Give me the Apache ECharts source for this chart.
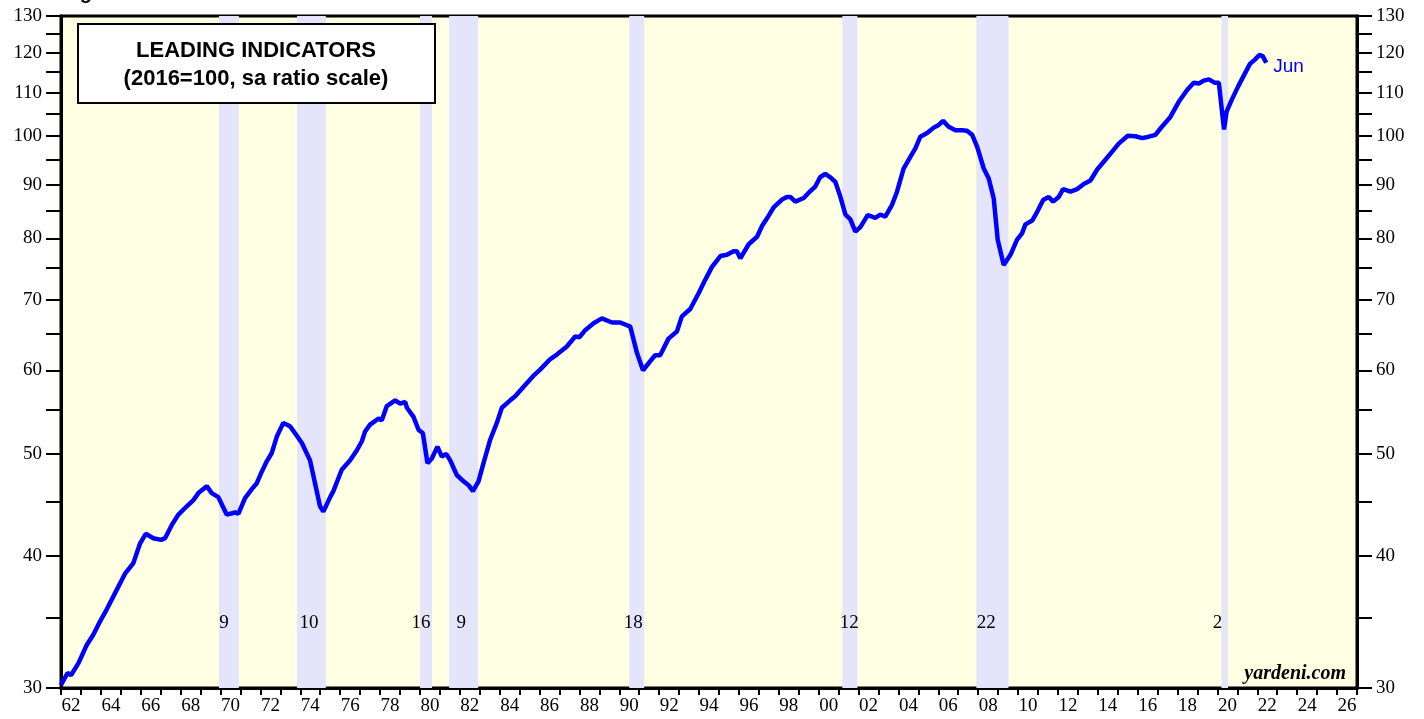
<!DOCTYPE html>
<html>
<head>
<meta charset="utf-8">
<script src="https://cdn.jsdelivr.net/npm/echarts@6/dist/echarts.min.js"></script>
<style>
  html, body { margin: 0; padding: 0; background: #fff; }
  #chart { width: 1424px; height: 719px; }
</style>
</head>
<body>
<div id="chart"></div>
<script>
// LEI readings (year fraction, index 2016=100)
var years = [
  1962.00, 1962.33, 1962.50, 1962.87, 1963.29, 1963.62, 1963.96, 1964.29, 1964.71, 1965.21,
  1965.63, 1965.96, 1966.25, 1966.63, 1967.02, 1967.22, 1967.55, 1967.89, 1968.31, 1968.64,
  1968.89, 1969.31, 1969.56, 1969.89, 1970.31, 1970.73, 1970.90, 1971.23, 1971.57, 1971.82,
  1972.07, 1972.32, 1972.57, 1972.82, 1973.15, 1973.49, 1973.74, 1974.08, 1974.49, 1974.74,
  1974.99, 1975.16, 1975.50, 1975.66, 1976.08, 1976.50, 1976.84, 1977.09, 1977.25, 1977.50,
  1977.92, 1978.09, 1978.34, 1978.76, 1979.01, 1979.26, 1979.35, 1979.68, 1979.93, 1980.15,
  1980.38, 1980.60, 1980.88, 1981.10, 1981.32, 1981.52, 1981.85, 1982.19, 1982.44, 1982.66,
  1982.94, 1983.19, 1983.53, 1983.86, 1984.11, 1984.53, 1984.78, 1985.20, 1985.70, 1986.03,
  1986.54, 1986.87, 1987.37, 1987.79, 1988.01, 1988.29, 1988.71, 1989.13, 1989.63, 1990.05,
  1990.55, 1990.89, 1991.19, 1991.55, 1991.80, 1992.05, 1992.47, 1992.89, 1993.14, 1993.56,
  1993.98, 1994.31, 1994.65, 1995.07, 1995.40, 1995.73, 1995.90, 1996.07, 1996.49, 1996.91,
  1997.16, 1997.41, 1997.74, 1998.16, 1998.41, 1998.58, 1998.83, 1999.25, 1999.58, 1999.83,
  2000.08, 2000.33, 2000.59, 2000.84, 2001.09, 2001.34, 2001.59, 2001.84, 2002.09, 2002.46,
  2002.84, 2003.09, 2003.34, 2003.68, 2003.93, 2004.26, 2004.60, 2004.85, 2005.10, 2005.44,
  2005.77, 2006.02, 2006.24, 2006.52, 2006.86, 2007.19, 2007.44, 2007.70, 2007.95, 2008.28,
  2008.53, 2008.78, 2008.98, 2009.28, 2009.62, 2009.95, 2010.20, 2010.37, 2010.71, 2010.96,
  2011.26, 2011.54, 2011.76, 2012.04, 2012.26, 2012.63, 2012.96, 2013.30, 2013.63, 2013.97,
  2014.38, 2014.72, 2015.05, 2015.50, 2015.89, 2016.23, 2016.55, 2016.89, 2017.14, 2017.64,
  2018.06, 2018.48, 2018.81, 2019.07, 2019.31, 2019.57, 2019.85, 2020.07, 2020.12, 2020.33,
  2020.46, 2020.71, 2021.04, 2021.38, 2021.63, 2021.88, 2022.10, 2022.27, 2022.45
];
var lei = [
  30.2, 31.0, 30.85, 31.66, 32.95, 33.7, 34.7, 35.6, 36.9, 38.5,
  39.4, 41.1, 42.0, 41.6, 41.45, 41.6, 42.8, 43.8, 44.6, 45.2,
  45.9, 46.6, 45.9, 45.5, 43.8, 44.0, 43.9, 45.4, 46.3, 46.9,
  48.1, 49.2, 50.1, 51.9, 53.5, 53.1, 52.3, 51.2, 49.3, 46.9,
  44.6, 44.1, 45.5, 46.1, 48.3, 49.3, 50.4, 51.4, 52.5, 53.3,
  54.0, 53.8, 55.5, 56.2, 55.8, 56.0, 55.3, 54.2, 52.7, 52.3,
  49.0, 49.5, 50.8, 49.7, 50.0, 49.3, 47.75, 47.1, 46.7, 46.1,
  47.1, 49.0, 51.6, 53.5, 55.3, 56.2, 56.7, 57.9, 59.3, 60.1,
  61.5, 62.1, 63.2, 64.6, 64.5, 65.5, 66.5, 67.2, 66.6, 66.6,
  66.0, 62.3, 60.0, 61.2, 62.0, 62.0, 64.3, 65.3, 67.5, 68.6,
  71.0, 73.1, 75.2, 77.0, 77.2, 77.8, 77.8, 76.6, 79.0, 80.3,
  82.2, 83.6, 85.6, 87.1, 87.6, 87.6, 86.7, 87.4, 88.7, 89.6,
  91.5, 92.1, 91.4, 90.5, 87.6, 84.3, 83.4, 81.2, 82.0, 84.2,
  83.7, 84.3, 83.9, 86.1, 88.6, 93.2, 95.6, 97.4, 99.9, 100.7,
  101.9, 102.5, 103.4, 102.1, 101.3, 101.3, 101.2, 100.3, 97.7, 93.2,
  91.2, 87.3, 79.8, 75.5, 77.2, 79.8, 80.9, 82.5, 83.2, 84.8,
  87.0, 87.6, 86.7, 87.6, 89.1, 88.6, 89.1, 90.1, 90.8, 93.0,
  95.0, 96.7, 98.4, 100.1, 100.0, 99.6, 99.9, 100.3, 101.7, 104.3,
  107.8, 110.6, 112.4, 112.2, 112.9, 113.2, 112.4, 112.4, 112.2, 101.5,
  105.5, 108.2, 111.5, 114.7, 117.1, 118.2, 119.4, 119.1, 117.4
];

// recessions (shaded) and their labels
var recStart = [1969.92, 1973.84, 1980.01, 1981.47, 1990.50, 2001.19, 2007.91, 2020.20];
var recEnd   = [1970.92, 1975.28, 1980.61, 1982.92, 1991.25, 2001.94, 2009.52, 2020.53];
var recLabelYears = [1970.18, 1974.44, 1980.06, 1982.07, 1990.70, 2001.54, 2008.41, 2020.00];
var recLabels = ['9', '10', '16', '9', '18', '12', '22', '2'];

// ratio scale ticks
var yTicks = [30, 35, 40, 45, 50, 55, 60, 65, 70, 75, 80, 85, 90, 95, 100, 105, 110, 115, 120, 125, 130];
var yLabels = [30, 40, 50, 60, 70, 80, 90, 100, 110, 120, 130];

var serif = '"Liberation Serif", "Times New Roman", serif';
var sans = '"Liberation Sans", Arial, sans-serif';

var chart = echarts.init(document.getElementById('chart'));

function yAxisCfg(pos) {
  return {
    type: 'value',
    position: pos,
    min: Math.log(30),
    max: Math.log(130),
    splitLine: { show: false },
    axisLine: { show: true, lineStyle: { color: '#000', width: 3 } },
    axisTick: {
      show: true,
      customValues: yTicks.map(Math.log),
      length: 15,
      lineStyle: { color: '#000', width: 2 }
    },
    axisLabel: {
      customValues: yLabels.map(Math.log),
      formatter: function (v) { return String(Math.round(Math.exp(v))); },
      color: '#000',
      fontFamily: serif,
      fontSize: 19,
      margin: 19
    }
  };
}

var option = {
  animation: false,
  backgroundColor: '#ffffff',
  grid: {
    left: 61, right: 67, top: 16, bottom: 31,
    show: true,
    backgroundColor: '#FFFFE3',
    borderColor: '#000',
    borderWidth: 3
  },
  xAxis: {
    type: 'value',
    min: 1962,
    max: 2027,
    interval: 1,
    splitLine: { show: false },
    axisLine: { show: true, lineStyle: { color: '#000', width: 3 } },
    axisTick: { show: true, length: 7, lineStyle: { color: '#000', width: 2 } },
    axisLabel: {
      formatter: function (v) { return v % 2 === 0 ? String(v).slice(2) : ''; },
      color: '#000',
      fontFamily: serif,
      fontSize: 19,
      padding: [0, 0, 0, 20],
      margin: 9
    }
  },
  yAxis: [yAxisCfg('left'), yAxisCfg('right')],
  series: [
    {
      type: 'line',
      data: years.map(function (t, i) { return [t, Math.log(lei[i])]; }),
      showSymbol: false,
      lineStyle: { color: '#0000FF', width: 4.5 },
      itemStyle: { color: '#0000FF' },
      endLabel: {
        show: true,
        formatter: 'Jun',
        color: '#0000FF',
        fontFamily: sans,
        fontSize: 19,
        distance: 7,
        offset: [0, 4]
      },
      markArea: {
        silent: true,
        itemStyle: { color: '#E4E4FB' },
        data: recStart.map(function (s, i) { return [{ xAxis: s }, { xAxis: recEnd[i] }]; })
      },
      z: 3
    },
    {
      type: 'scatter',
      symbolSize: 0,
      itemStyle: { color: '#000' },
      silent: true,
      data: recLabelYears.map(function (t, i) {
        return { name: recLabels[i], value: [t, Math.log(34.6)] };
      }),
      label: {
        show: true,
        position: 'inside',
        formatter: '{b}',
        color: '#000',
        opacity: 1,
        fontFamily: serif,
        fontSize: 19
      },
      z: 4
    }
  ],
  graphic: [
    {
      type: 'text',
      left: 62, top: -17,
      z: 100,
      style: { text: 'Figure 1.', font: 'bold 20px ' + sans, fill: '#000' }
    },
    {
      type: 'group',
      left: 77, top: 23,
      z: 100,
      children: [
        {
          type: 'rect',
          z: 100,
          shape: { x: 0, y: 0, width: 357, height: 79 },
          style: { fill: '#fff', stroke: '#000', lineWidth: 2 }
        },
        {
          type: 'text',
          z: 101,
          x: 178, y: 27,
          style: {
            text: 'LEADING INDICATORS',
            font: 'bold 22px ' + sans,
            fill: '#000', align: 'center', verticalAlign: 'middle'
          }
        },
        {
          type: 'text',
          z: 101,
          x: 178, y: 55,
          style: {
            text: '(2016=100, sa ratio scale)',
            font: 'bold 22px ' + sans,
            fill: '#000', align: 'center', verticalAlign: 'middle'
          }
        }
      ]
    },
    {
      type: 'text',
      x: 1346, y: 674,
      z: 100,
      style: {
        text: 'yardeni.com',
        font: 'italic bold 20px ' + serif,
        fill: '#000', align: 'right', verticalAlign: 'middle'
      }
    }
  ]
};

chart.setOption(option);
</script>
</body>
</html>
